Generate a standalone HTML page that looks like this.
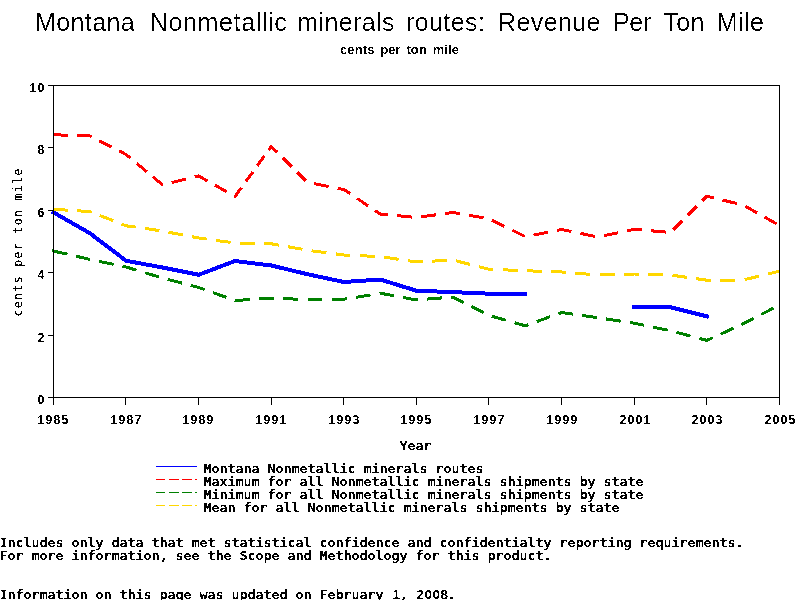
<!DOCTYPE html>
<html lang="en">
<head>
<meta charset="utf-8">
<title>Montana Nonmetallic minerals routes: Revenue Per Ton Mile</title>
<style>
html,body{margin:0;padding:0;background:#fff;}
body{width:800px;height:600px;overflow:hidden;}
svg{display:block;}
.s{font-family:"Liberation Sans",sans-serif;font-size:12.3px;}
</style>
</head>
<body>
<svg width="800" height="600" viewBox="0 0 800 600">
<rect width="800" height="600" fill="#fff"/>
<defs><filter id="fm" x="0" y="0" width="800" height="600" filterUnits="userSpaceOnUse" color-interpolation-filters="sRGB"><feComponentTransfer><feFuncA type="discrete" tableValues="0 1"/></feComponentTransfer></filter><filter id="fv" x="0" y="0" width="800" height="600" filterUnits="userSpaceOnUse" color-interpolation-filters="sRGB"><feComponentTransfer><feFuncA type="discrete" tableValues="0 1 1"/></feComponentTransfer></filter><filter id="ft" x="0" y="0" width="800" height="600" filterUnits="userSpaceOnUse" color-interpolation-filters="sRGB"><feComponentTransfer><feFuncA type="discrete" tableValues="0 0 0 1 1"/></feComponentTransfer></filter><filter id="fs" x="0" y="0" width="800" height="600" filterUnits="userSpaceOnUse" color-interpolation-filters="sRGB"><feComponentTransfer><feFuncA type="discrete" tableValues="0 1"/></feComponentTransfer></filter></defs>
<g fill="none" shape-rendering="crispEdges" stroke-linejoin="round">
<path d="M53.5 134.8L68.2 135.2M77.1 135.5L89.8 135.9L91.6 136.8M99.3 140.8L111.6 147.1M119.2 151.0L126.1 154.5L130.5 158.2M136.7 163.3L146.6 171.6M152.8 176.7L162.4 184.7L162.8 184.6M171.7 182.5L186.0 179.1M194.8 176.9L198.7 176.0L207.4 180.9M214.8 185.1L226.6 191.8M234.0 196.0L235.0 196.5L241.5 187.6M245.9 181.5L252.9 171.8M257.3 165.7L264.4 156.0M268.8 150.0L271.3 146.5L277.1 152.2M282.6 157.7L291.5 166.6M297.1 172.1L306.0 180.9M314.1 183.7L328.6 186.5M337.6 188.3L343.9 189.5L350.1 193.7M357.0 198.3L368.1 205.8M374.9 210.4L380.2 214.0L388.0 214.7M397.2 215.6L412.1 217.1M421.3 216.8L436.0 214.8M445.2 213.5L452.8 212.5L459.9 213.7M468.9 215.3L483.5 217.8M492.1 220.2L504.5 226.4M512.3 230.2L524.7 236.4M533.6 235.1L548.0 232.2M557.0 230.4L561.7 229.5L571.5 231.5M580.5 233.4L594.9 236.4M603.9 235.7L618.3 232.7M627.2 230.8L634.3 229.2L641.9 229.9M651.1 230.8L666.0 232.1M673.4 229.7L682.3 220.8M687.8 215.3L696.7 206.4M702.2 200.9L706.9 196.2L713.7 197.9M722.5 200.0L736.8 203.5M745.2 206.1L757.1 212.9M764.5 217.0L776.4 223.8" stroke="#ff0000" stroke-width="3"/>
<path d="M52.0 250.8L67.5 254.1M75.9 256.1L89.8 259.5L90.2 259.6M99.1 261.4L113.6 264.4M122.5 266.3L126.1 267.0L136.6 270.2M145.2 272.8L159.0 277.0M167.8 279.4L181.9 283.1M190.7 285.4L198.7 287.5L204.5 289.6M212.9 292.6L226.4 297.4M234.8 300.4L235.0 300.5L249.7 299.6M259.0 299.0L271.3 298.2L273.9 298.3M283.2 298.7L298.2 299.2M307.5 299.5L307.6 299.5L322.5 299.4M331.8 299.3L343.9 299.2L346.8 298.8M355.9 297.3L370.5 294.9M379.6 293.4L380.2 293.2L394.1 295.8M403.2 297.5L416.5 300.0L417.7 299.9M427.0 299.1L441.9 297.9M451.2 297.1L452.8 297.0L463.8 302.6M471.4 306.5L483.8 312.8M491.8 316.2L505.8 320.2M514.5 322.7L525.4 325.8L528.3 324.7M536.7 321.6L550.1 316.7M558.5 313.7L561.7 312.5L572.9 314.1M582.0 315.4L596.7 317.6M605.9 318.9L620.6 321.2M629.7 322.6L634.3 323.2L644.2 325.3M653.2 327.2L667.6 330.1M676.5 332.3L690.6 336.1M699.3 338.4L706.9 340.4L712.8 337.7M720.7 334.1L733.4 328.2M741.3 324.6L743.2 323.8L753.7 318.3M761.3 314.4L773.6 308.1" stroke="#008000" stroke-width="3"/>
<path d="M53.5 209.4L68.2 210.2M77.0 210.8L89.8 211.5L91.7 212.2M99.9 215.5L113.2 220.7M121.4 223.9L126.1 225.8L135.6 227.1M144.7 228.4L159.4 230.6M168.5 232.2L183.0 235.0M192.0 236.7L198.7 238.0L206.6 239.1M215.8 240.4L230.6 242.4M239.8 243.1L254.8 243.4M264.1 243.6L271.3 243.8L278.9 245.1M287.9 246.7L302.5 249.3M311.6 250.8L326.4 252.7M335.6 253.9L343.9 255.0L350.4 255.3M359.7 255.7L374.7 256.3M383.9 257.1L398.6 259.3M407.8 260.7L416.5 262.0L422.6 261.7M431.8 261.2L446.8 260.3M455.9 260.8L470.1 264.4M478.9 266.7L489.1 269.2L493.3 269.4M502.6 269.8L517.6 270.4M526.9 270.8L541.9 271.3M551.2 271.6L561.7 272.0L566.1 272.4M575.4 273.1L590.3 274.4M599.6 275.0L614.6 274.5M623.9 274.3L634.3 274.0L638.9 274.1M648.2 274.4L663.2 274.8M672.5 275.3L687.2 277.4M696.3 278.7L706.9 280.2L711.1 280.2M720.4 280.2L735.4 280.1M744.7 279.6L758.9 276.2M767.8 274.1L779.5 271.2" stroke="#ffd700" stroke-width="3"/>
<polyline points="53.50,212.40 89.80,233.20 126.10,260.75 162.40,267.50 198.70,274.75 235.00,261.00 271.30,265.50 307.60,274.25 343.90,282.00 380.20,279.50 416.50,290.75 452.80,292.10 489.10,293.70 525.40,293.90" stroke="#0000ff" stroke-width="4" stroke-linecap="square"/>
<polyline points="634.30,306.60 670.60,307.25 706.90,316.40" stroke="#0000ff" stroke-width="4" stroke-linecap="square"/>
</g>
<g stroke="#000" stroke-width="1" fill="none" shape-rendering="crispEdges">
<path d="M48 85.5H780 M48 397.5H780 M53.5 85V405 M779.5 85V405"/>
<path d="M48 397.5H53 M48 335.1H53 M48 272.7H53 M48 210.3H53 M48 147.9H53 M48 85.5H53 M53.5 398V405 M125.5 398V405 M198.5 398V405 M271.5 398V405 M343.5 398V405 M416.5 398V405 M488.5 398V405 M561.5 398V405 M634.5 398V405 M706.5 398V405 M779.5 398V405"/>
</g>
<g filter="url(#fm)" font-family='"DejaVu Sans Mono", "Liberation Mono", monospace' font-size="12.3px" font-weight="bold" fill="#000">
<g font-family='"Liberation Sans", sans-serif' font-size="12.3px">
<text x="37.5" y="404">0</text>
<text x="37.5" y="342">2</text>
<text x="37.5" y="279">4</text>
<text x="37.5" y="217">6</text>
<text x="37.5" y="154">8</text>
<text x="29.5 37.5" y="92">10</text>
<text x="37.5 45.5 53.5 61.5" y="424">1985</text>
<text x="110.5 118.5 126.5 134.5" y="424">1987</text>
<text x="182.5 190.5 198.5 206.5" y="424">1989</text>
<text x="255.5 263.5 271.5 279.5" y="424">1991</text>
<text x="328.5 336.5 344.5 352.5" y="424">1993</text>
<text x="400.5 408.5 416.5 424.5" y="424">1995</text>
<text x="473.5 481.5 489.5 497.5" y="424">1997</text>
<text x="546.5 554.5 562.5 570.5" y="424">1999</text>
<text x="619.5 627.5 635.5 643.5" y="424">2001</text>
<text x="691.5 699.5 707.5 715.5" y="424">2003</text>
<text x="764.5 772.5 780.5 788.5" y="424">2005</text>
</g>
<text transform="scale(1.1 1)" x="363.18 370.45 377.73 385" y="450">Year</text>
<text transform="scale(1.1 1)" x="185 192.27 199.55 206.82 214.09 221.36 228.64 235.91 243.18 250.45 257.73 265 272.27 279.55 286.82 294.09 301.36 308.64 315.91 323.18 330.45 337.73 345 352.27 359.55 366.82 374.09 381.36 388.64 395.91 403.18 410.45 417.73 425 432.27" y="473">Montana Nonmetallic minerals routes</text>
<text transform="scale(1.1 1)" x="185 192.27 199.55 206.82 214.09 221.36 228.64 235.91 243.18 250.45 257.73 265 272.27 279.55 286.82 294.09 301.36 308.64 315.91 323.18 330.45 337.73 345 352.27 359.55 366.82 374.09 381.36 388.64 395.91 403.18 410.45 417.73 425 432.27 439.55 446.82 454.09 461.36 468.64 475.91 483.18 490.45 497.73 505 512.27 519.55 526.82 534.09 541.36 548.64 555.91 563.18 570.45 577.73" y="486">Maximum for all Nonmetallic minerals shipments by state</text>
<text transform="scale(1.1 1)" x="185 192.27 199.55 206.82 214.09 221.36 228.64 235.91 243.18 250.45 257.73 265 272.27 279.55 286.82 294.09 301.36 308.64 315.91 323.18 330.45 337.73 345 352.27 359.55 366.82 374.09 381.36 388.64 395.91 403.18 410.45 417.73 425 432.27 439.55 446.82 454.09 461.36 468.64 475.91 483.18 490.45 497.73 505 512.27 519.55 526.82 534.09 541.36 548.64 555.91 563.18 570.45 577.73" y="499">Minimum for all Nonmetallic minerals shipments by state</text>
<text transform="scale(1.1 1)" x="185 192.27 199.55 206.82 214.09 221.36 228.64 235.91 243.18 250.45 257.73 265 272.27 279.55 286.82 294.09 301.36 308.64 315.91 323.18 330.45 337.73 345 352.27 359.55 366.82 374.09 381.36 388.64 395.91 403.18 410.45 417.73 425 432.27 439.55 446.82 454.09 461.36 468.64 475.91 483.18 490.45 497.73 505 512.27 519.55 526.82 534.09 541.36 548.64 555.91" y="512">Mean for all Nonmetallic minerals shipments by state</text>
<text transform="scale(1.1 1)" x="-0.45 6.82 14.09 21.36 28.64 35.91 43.18 50.45 57.73 65 72.27 79.55 86.82 94.09 101.36 108.64 115.91 123.18 130.45 137.73 145 152.27 159.55 166.82 174.09 181.36 188.64 195.91 203.18 210.45 217.73 225 232.27 239.55 246.82 254.09 261.36 268.64 275.91 283.18 290.45 297.73 305 312.27 319.55 326.82 334.09 341.36 348.64 355.91 363.18 370.45 377.73 385 392.27 399.55 406.82 414.09 421.36 428.64 435.91 443.18 450.45 457.73 465 472.27 479.55 486.82 494.09 501.36 508.64 515.91 523.18 530.45 537.73 545 552.27 559.55 566.82 574.09 581.36 588.64 595.91 603.18 610.45 617.73 625 632.27 639.55 646.82 654.09 661.36 668.64" y="547">Includes only data that met statistical confidence and confidentialty reporting requirements.</text>
<text transform="scale(1.1 1)" x="-0.45 6.82 14.09 21.36 28.64 35.91 43.18 50.45 57.73 65 72.27 79.55 86.82 94.09 101.36 108.64 115.91 123.18 130.45 137.73 145 152.27 159.55 166.82 174.09 181.36 188.64 195.91 203.18 210.45 217.73 225 232.27 239.55 246.82 254.09 261.36 268.64 275.91 283.18 290.45 297.73 305 312.27 319.55 326.82 334.09 341.36 348.64 355.91 363.18 370.45 377.73 385 392.27 399.55 406.82 414.09 421.36 428.64 435.91 443.18 450.45 457.73 465 472.27 479.55 486.82 494.09" y="560">For more information, see the Scope and Methodology for this product.</text>
<text transform="scale(1.1 1)" x="-0.45 6.82 14.09 21.36 28.64 35.91 43.18 50.45 57.73 65 72.27 79.55 86.82 94.09 101.36 108.64 115.91 123.18 130.45 137.73 145 152.27 159.55 166.82 174.09 181.36 188.64 195.91 203.18 210.45 217.73 225 232.27 239.55 246.82 254.09 261.36 268.64 275.91 283.18 290.45 297.73 305 312.27 319.55 326.82 334.09 341.36 348.64 356.82 363.18 370.45 378.64 385.91 393.18 400.45 406.82" y="599">Information on this page was updated on February <tspan class="s">1</tspan>, <tspan class="s">2008</tspan>.</text>
</g>
<g filter="url(#fv)"><text transform="translate(22 316.5) rotate(-90) scale(0.88 1)" font-family='"DejaVu Sans Mono", "Liberation Mono", monospace' font-size="13px" letter-spacing="1.6px" fill="#000">cents per ton mile</text></g>
<g fill="none" stroke-width="1" shape-rendering="crispEdges">
<path d="M156 466.5H197" stroke="#0000ff"/>
<path d="M156 479.5H165M169 479.5H179M182 479.5H192M195 479.5H197" stroke="#ff0000"/>
<path d="M156 492.5H165M169 492.5H179M182 492.5H192M195 492.5H197" stroke="#008000"/>
<path d="M156 505.5H165M169 505.5H179M182 505.5H192M195 505.5H197" stroke="#ffd700"/>
</g>
<g filter="url(#ft)"><text y="31" font-family='"Liberation Sans", sans-serif' font-size="25px" letter-spacing="0.4px" fill="#000" xml:space="preserve"><tspan x="35.00">Montana </tspan><tspan x="149.75" letter-spacing="0.65px">Nonmetallic </tspan><tspan x="297.25">minerals </tspan><tspan x="406.00">routes: </tspan><tspan x="498.00">Revenue </tspan><tspan x="613.00" letter-spacing="-0.3px">Per </tspan><tspan x="663.25">Ton </tspan><tspan x="716.75">Mile</tspan></text></g>
<g filter="url(#fs)"><text x="340" y="54" font-family='"Liberation Sans", sans-serif' font-size="13px" font-weight="bold" word-spacing="2px" letter-spacing="0.1px" fill="#000">cents per ton mile</text></g>
</svg>
</body>
</html>
